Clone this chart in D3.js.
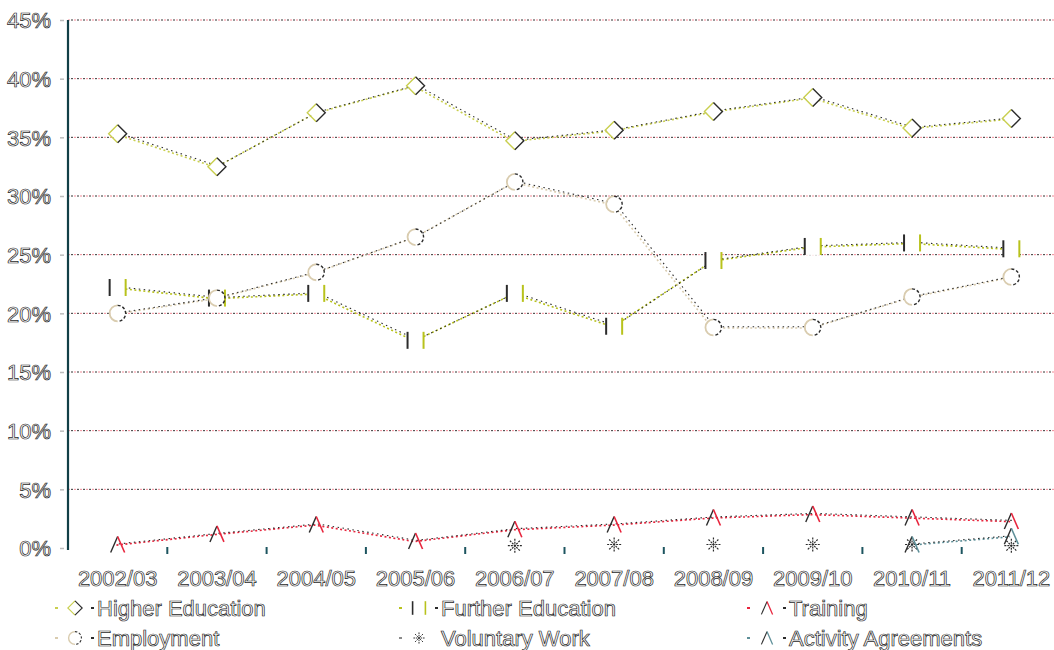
<!DOCTYPE html>
<html>
<head>
<meta charset="utf-8">
<script src="https://cdn.jsdelivr.net/npm/d3@7"></script>
<style>
  html, body { margin: 0; padding: 0; background: #fff; }
  svg { display: block; }
  text { font-family: "Liberation Sans", Arial, sans-serif; fill: #fff; stroke: #1e1e1e; stroke-width: 0.7px; }
</style>
</head>
<body>
<svg id="chart" width="1054" height="650"></svg>
<script>
// Destinations of leavers by academic year (share of leavers)
const years = ["2002/03","2003/04","2004/05","2005/06","2006/07","2007/08","2008/09","2009/10","2010/11","2011/12"];
const higherEducation   = [35.3, 32.5, 37.1, 39.4, 34.7, 35.6, 37.2, 38.4, 35.8, 36.6];
const furtherEducation  = [22.2, 21.3, 21.7, 17.7, 21.7, 18.9, 24.5, 25.7, 26.0, 25.5];
const training          = [0.3, 1.2, 2.0, 0.6, 1.6, 2.0, 2.6, 2.9, 2.6, 2.3];
const employment        = [20.0, 21.3, 23.5, 26.5, 31.2, 29.3, 18.8, 18.8, 21.4, 23.1];
const voluntaryWork     = [null, null, null, null, 0.2, 0.3, 0.3, 0.3, 0.3, 0.2];
const activityAgreements= [null, null, null, null, null, null, null, null, 0.3, 1.0];
const yTicks = [0, 5, 10, 15, 20, 25, 30, 35, 40, 45];

const series = [
  { name: "Higher Education",    values: higherEducation,    color: "#c9cf4f", marker: "diamond", line: true },
  { name: "Further Education",   values: furtherEducation,   color: "#b8c21c", marker: "bars",    line: true },
  { name: "Training",            values: training,           color: "#e8253d", marker: "caret",   line: true },
  { name: "Employment",          values: employment,         color: "#d9ccaf", marker: "circle",  line: true },
  { name: "Voluntary Work",      values: voluntaryWork,      color: "#8a8a8a", marker: "star",    line: false },
  { name: "Activity Agreements", values: activityAgreements, color: "#5d8f98", marker: "caret",   line: true }
];

const svg = d3.select("#chart");
const dark = "#2b2b2b";

const x = d3.scaleBand().domain(years).range([68, 1061]);
const cx = d => x(d) + x.bandwidth() / 2;
const y = d3.scaleLinear().domain([0, 45]).range([548, 20]);

// horizontal gridlines (dash-dot, pink and black)
const grid = svg.append("g");
yTicks.filter(t => t > 0).forEach(t => {
  grid.append("line").attr("x1", 68).attr("x2", 1054).attr("y1", y(t)).attr("y2", y(t))
    .attr("stroke", "#f08a96").attr("stroke-width", 1).attr("stroke-dasharray", "2,4");
  grid.append("line").attr("x1", 71).attr("x2", 1054).attr("y1", y(t)).attr("y2", y(t))
    .attr("stroke", "#333").attr("stroke-width", 1).attr("stroke-dasharray", "2,4");
});

// y axis
const yAxis = d3.axisLeft(y).tickValues(yTicks).tickFormat(d => d + "%").tickSize(4).tickPadding(11);
const gy = svg.append("g").attr("transform", "translate(66,0)").call(yAxis);
gy.select(".domain").remove();
gy.selectAll(".tick line").attr("stroke", "#bbb").attr("stroke-width", 1.5).attr("transform", "translate(-2,0)");
gy.selectAll(".tick text").attr("font-size", 22).attr("dy", "0.36em")
  .style("font-family", "'Liberation Sans', Arial, sans-serif").attr("fill", "#fff").attr("stroke", "#1e1e1e").attr("stroke-width", 0.7);
svg.append("line").attr("x1", 68).attr("x2", 68).attr("y1", 20).attr("y2", 550)
  .attr("stroke", "#123f47").attr("stroke-width", 2.2);

// x axis: tick marks between categories, labels centred
const gx = svg.append("g");
years.slice(1).forEach(yr => {
  gx.append("line").attr("x1", x(yr)).attr("x2", x(yr)).attr("y1", 547).attr("y2", 554)
    .attr("stroke", "#1d5560").attr("stroke-width", 2);
});
years.forEach(yr => {
  gx.append("text").attr("x", cx(yr)).attr("y", 578).attr("dy", "0.36em")
    .attr("text-anchor", "middle").attr("font-size", 22).text(yr);
});

// marker drawing, left half coloured, right half dark
function drawMarker(g, type, px, py, color) {
  const m = g.append("g").attr("transform", `translate(${px},${py})`).attr("fill", "none").attr("stroke-width", 1.4);
  if (type === "diamond") {
    const r = 9;
    m.append("polygon").attr("points", `0,${-r+1} ${r-1},0 0,${r-1} ${-r+1},0`).attr("fill", "#fff").attr("stroke", "none");
    m.append("polyline").attr("points", `0,${-r} ${-r},0 0,${r}`).attr("stroke", color);
    m.append("polyline").attr("points", `0,${-r} ${r},0 0,${r}`).attr("stroke", dark);
  } else if (type === "circle") {
    const r = 8;
    m.append("circle").attr("r", r - 0.7).attr("fill", "#fff").attr("stroke", "none");
    m.append("path").attr("d", `M0,${-r} A${r},${r} 0 0 0 0,${r}`).attr("stroke", color).attr("stroke-width", 1.8);
    m.append("path").attr("d", `M0,${-r} A${r},${r} 0 0 1 0,${r}`).attr("stroke", dark).attr("stroke-dasharray", "3,2");
  } else if (type === "bars") {
    m.append("rect").attr("x", -8).attr("y", -8.5).attr("width", 16).attr("height", 17).attr("fill", "#fff").attr("stroke", "none");
    m.append("line").attr("x1", -8).attr("x2", -8).attr("y1", -8.5).attr("y2", 8.5).attr("stroke", dark).attr("stroke-width", 2);
    m.append("line").attr("x1", 8).attr("x2", 8).attr("y1", -8.5).attr("y2", 8.5).attr("stroke", color).attr("stroke-width", 2);
  } else if (type === "caret") {
    m.append("line").attr("x1", -7).attr("y1", 8).attr("x2", 0).attr("y2", -8).attr("stroke", dark);
    m.append("line").attr("x1", 0).attr("y1", -8).attr("x2", 7).attr("y2", 8).attr("stroke", color).attr("stroke-width", 1.6);
  } else if (type === "star") {
    [0, 45, 90, 135].forEach(a => {
      const rad = a * Math.PI / 180, r = 7;
      m.append("line").attr("x1", -r * Math.cos(rad)).attr("y1", -r * Math.sin(rad))
        .attr("x2", r * Math.cos(rad)).attr("y2", r * Math.sin(rad))
        .attr("stroke", dark).attr("stroke-width", 1.2).attr("stroke-dasharray", "2,1");
    });
  }
}

const line = d3.line().defined(d => d.v != null).x(d => cx(d.year)).y(d => y(d.v));
const plot = svg.append("g");

series.forEach(s => {
  const pts = years.map((yr, i) => ({ year: yr, v: s.values[i] }));
  if (s.line) {
    plot.append("path").datum(pts).attr("d", line).attr("fill", "none")
      .attr("transform", "translate(-1.2,0.6)")
      .attr("stroke", s.color).attr("stroke-width", 1.6).attr("stroke-dasharray", "2,2.5");
    plot.append("path").datum(pts).attr("d", line).attr("fill", "none")
      .attr("transform", "translate(1.2,-0.6)")
      .attr("stroke", dark).attr("stroke-width", 1.1).attr("stroke-dasharray", "1.5,3.5");
  }
});
series.forEach(s => {
  years.forEach((yr, i) => {
    if (s.values[i] != null) drawMarker(plot, s.marker, cx(yr), y(s.values[i]), s.color);
  });
});

// legend: three columns, two rows
const legendPos = [
  { x: 55,  y: 608 }, { x: 399, y: 608 }, { x: 747, y: 608 },
  { x: 55,  y: 638 }, { x: 399, y: 638 }, { x: 747, y: 638 }
];
const order = ["Higher Education", "Further Education", "Training", "Employment", "Voluntary Work", "Activity Agreements"];
order.forEach((name, i) => {
  const s = series.find(d => d.name === name);
  const p = legendPos[i];
  const g = svg.append("g");
  g.append("line").attr("x1", p.x).attr("x2", p.x + 3).attr("y1", p.y).attr("y2", p.y)
    .attr("stroke", s.color).attr("stroke-width", 2);
  if (s.line) {
    g.append("line").attr("x1", p.x + 36).attr("x2", p.x + 39).attr("y1", p.y).attr("y2", p.y)
      .attr("stroke", dark).attr("stroke-width", 2);
  }
  drawMarker(g, s.marker, p.x + 20, p.y, s.color);
  g.select("g").attr("transform", `translate(${p.x + 20},${p.y}) scale(0.8)`);
  g.append("text").attr("x", p.x + 42).attr("y", p.y).attr("dy", "0.36em")
    .attr("font-size", 22).text(name);
});
</script>
</body>
</html>
